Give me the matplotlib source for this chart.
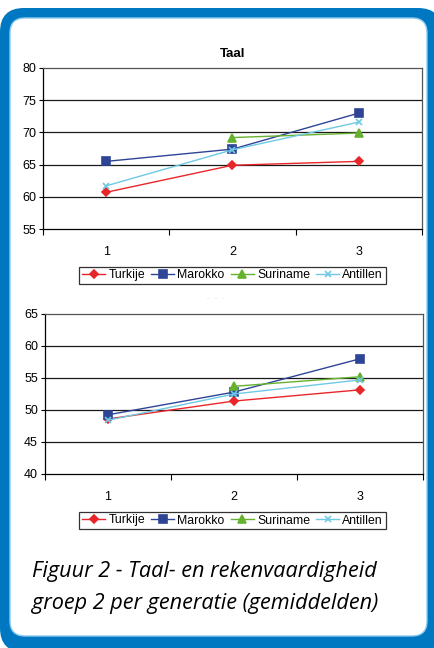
import numpy as np
import matplotlib
matplotlib.use("Agg")
import matplotlib.pyplot as plt
from matplotlib.patches import FancyBboxPatch

plt.rcParams['font.family'] = ['Liberation Sans', 'DejaVu Sans']

generaties = ['1', '2', '3']
landen = ['Turkije', 'Marokko', 'Suriname', 'Antillen']

# Taal (gemiddelden per generatie)
taal_turkije = [60.7, 64.9, 65.5]
taal_marokko = [65.5, 67.4, 73.0]
taal_suriname = [np.nan, 69.2, 69.9]
taal_antillen = [61.7, 67.3, 71.6]

# Rekenen (gemiddelden per generatie)
reken_turkije = [48.6, 51.4, 53.15]
reken_marokko = [49.25, 52.8, 58.0]
reken_suriname = [np.nan, 53.7, 55.2]
reken_antillen = [48.4, 52.5, 54.7]

kleuren = ['#E8262A', '#2E4596', '#66B22E', '#6FC9E4']
markers = ['D', 's', '^', 'x']
msizes = [4.2, 5.5, 5.5, 4.5]

W, H = 435, 648
fig = plt.figure(figsize=(W / 100, H / 100), dpi=100)
fig.patch.set_facecolor('white')

# rounded blue frame, drawn in pixel units (y up)
bg = fig.add_axes([0, 0, 1, 1], zorder=-10)
bg.set_xlim(0, W)
bg.set_ylim(0, H)
bg.axis('off')
bg.add_patch(FancyBboxPatch((24, 20), 442 - 48, 640 - 44,
                            boxstyle='round,pad=24', fc='#0077C1', ec='none'))
bg.add_patch(FancyBboxPatch((25, 27), 427 - 10 - 30, 630 - 12 - 30,
                            boxstyle='round,pad=15', fc='white',
                            ec='#8CCBEE', lw=1.0))


def teken(rect, reeksen, ymin, ymax, titel=None):
    ax = fig.add_axes(rect)
    x = np.arange(len(generaties))
    for vals, naam, c, m, ms in zip(reeksen, landen, kleuren, markers, msizes):
        ax.plot(x, vals, color=c, lw=1.0, marker=m, ms=ms, mew=1.2,
                label=naam, clip_on=False, zorder=3)
    ax.set_xlim(-0.5, len(generaties) - 0.5)
    ax.set_ylim(ymin, ymax)
    ax.set_yticks(np.arange(ymin, ymax + 1, 5))
    for y in np.arange(ymin + 5, ymax, 5):
        ax.axhline(y, color='#1a1a1a', lw=0.9, zorder=1)
    ax.set_xticks(np.arange(-0.5, len(generaties), 1.0))
    ax.set_xticklabels([])
    ax.set_xticks(x, minor=True)
    ax.set_xticklabels(generaties, minor=True)
    ax.tick_params(axis='x', which='major', direction='out', length=4,
                   width=0.8)
    ax.tick_params(axis='x', which='minor', length=0, pad=12, labelsize=9)
    ax.tick_params(axis='y', direction='out', length=3, width=0.8, pad=2,
                   labelsize=9)
    for s in ax.spines.values():
        s.set_linewidth(0.9)
        s.set_color('black')
    ax.spines['right'].set_color('#555555')
    ax.spines['top'].set_color('#555555')
    if titel:
        ax.set_title(titel, fontsize=9.5, fontweight='bold', pad=8)
    return ax


ax1 = teken([43 / W, 1 - 229 / H, 379 / W, 161 / H],
            [taal_turkije, taal_marokko, taal_suriname, taal_antillen],
            55, 80, titel='Taal')
ax2 = teken([45 / W, 1 - 474 / H, 378 / W, 160 / H],
            [reken_turkije, reken_marokko, reken_suriname, reken_antillen],
            40, 65)

for ax, cy in [(ax1, 275.5), (ax2, 520.5)]:
    h, l = ax.get_legend_handles_labels()
    leg = fig.legend(h, l, loc='center', bbox_to_anchor=(232.5 / W, 1 - cy / H),
                     ncol=4, fontsize=8.8, frameon=True, fancybox=False,
                     handlelength=1.9, handletextpad=0.25, columnspacing=0.5,
                     borderpad=0.22, borderaxespad=0)
    leg.get_frame().set_edgecolor('black')
    leg.get_frame().set_linewidth(0.9)

fig.text(216 / W, 1 - 299 / H, '-    -    -', color='#c8c8c8', fontsize=4,
         ha='center', va='center')

fig.text(32 / W, 1 - 572 / H, 'Figuur 2 - Taal- en rekenvaardigheid',
         fontsize=15.6, style='italic', family='Open Sans', va='center')
fig.text(32 / W, 1 - 603 / H, 'groep 2 per generatie (gemiddelden)',
         fontsize=15.6, style='italic', family='Open Sans', va='center')

fig.savefig('out.png', dpi=100)
